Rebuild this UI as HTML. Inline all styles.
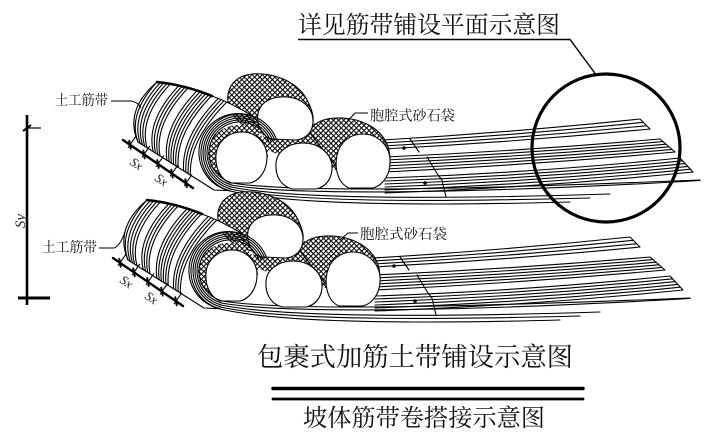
<!DOCTYPE html>
<html><head><meta charset="utf-8">
<style>html,body{margin:0;padding:0;background:#fff;}svg{display:block;}</style>
</head><body>
<svg width="723" height="432" viewBox="0 0 723 432" xmlns="http://www.w3.org/2000/svg">
<defs>
<pattern id="h" width="3.6" height="3.6" patternUnits="userSpaceOnUse" patternTransform="rotate(45)">
<rect width="3.6" height="3.6" fill="#fff"/>
<path d="M0,0.5H3.6M0.5,0V3.6" stroke="#000" stroke-width="1.1"/>
</pattern>
</defs>

<g id="grp" fill="none" stroke="#000" stroke-width="1.1" stroke-linejoin="round" stroke-linecap="round">
 <path d="M232,183 C300,194 500,188 700,180 M231,185 C300,197 500,192 700,180.5 M231,187 C300,201 480,198 610,194 M230,189 C300,204 470,201 590,198 M230,191 C300,207 460,205 570,202"/>
 <path fill="url(#h)" d="M232,113 C222,96 230,76 252,74 C276,72 297,83 306,98 C311,107 314,115 313,122 L262,133 C248,130 238,123 232,113 Z"/>
 <path fill="url(#h)" stroke="none" d="M262,133 L313,122 L330,133 L340,150 L336,170 L290,160 L268,150 Z"/>
 <path fill="url(#h)" d="M310,133 C312,122 326,117 343,118 C361,119 377,127 385,140 C391,150 391,163 387,172 L345,178 Z"/>
 <path fill="#fff" d="M258,113 C261,101 273,96 287,97 C302,98 313,108 313,121 C313,132 306,139 296,140 L272,139 C263,137 256,126 258,113 Z"/>
 <path d="M383,140 Q511.5,132.5 640,119 M383,143 Q513,135.6 643.3,122.3 M383,146 Q515,138.8 646.7,125.7 M383,149 Q516.5,142 650,129 M640,119 L650,129"/>
 <path d="M385,157 Q522.5,151 660,139 M385,160 Q524,153.8 663,141.6 M385,163 Q525.5,156.6 666,144.2 M385,166 Q527,159.4 669,146.8 M385,169 Q528.5,162.2 672,149.4 M385,172 Q530,165 675,152 M660,139 L675,152"/>
 <path d="M385,178 Q532.5,173 680,158 M385,181 Q533.8,175.9 682.6,160.8 M385,184 Q535.1,178.8 685.2,163.6 M385,187 Q536.4,181.7 687.8,166.4 M385,190 Q537.7,184.6 690.4,169.2 M385,193 Q539,187.5 693,172 M680,158 L693,172"/>
 <path d="M410,139 L419,152 M427,157 L438,175 L442,180 L446,197"/>
 <circle cx="404" cy="148" r="1.8" fill="#000" stroke="none"/>
 <circle cx="425" cy="183" r="1.8" fill="#000" stroke="none"/>
 <path fill="#fff" d="M337,155 C340,142 350,134 363,134 C377,134 389,145 390,159 C391,173 384,185 373,188 L349,188 C339,184 334,170 337,155 Z"/>
 <path fill="#fff" d="M157,82 Q212,90 254,117 A39,39 0 1 0 229.9,190.7 L214,190 L138,142 Q124,110 157,82 Z"/>
 <path d="M157,82 Q127.5,114 138,142 M160.3,82.5 Q130.3,115 140.3,143.4 M163.5,83 Q133,116 142.6,144.9 M166.8,83.6 Q135.8,117 144.8,146.3 M170,84.2 Q138.5,118 147.1,147.8 M178.5,86 Q145.8,120.8 153.2,151.6 M181.6,86.7 Q148.5,121.9 155.5,153 M184.8,87.4 Q151.3,123 157.8,154.5 M187.8,88.2 Q153.9,124 160,155.9 M197,90.8 Q162,127.5 166.9,160.2 M200,91.7 Q164.6,128.7 169.2,161.7 M202.9,92.8 Q167.2,130 171.4,163.1 M205.8,93.6 Q169.8,131.1 173.7,164.6 M208.8,94.75 Q172.4,132.4 176,166 M211.6,95.8 Q175,133.6 178.3,167.4 M218.3,98.4 Q181,136.6 183.6,170.8 M221.1,99.6 Q183.5,137.9 185.9,172.2 M223.8,100.9 Q186,139.3 188.2,173.7 M226.7,102.1 Q188.6,140.6 190.4,175.1"/>
 <path d="M157,82 Q185,85 212,96" stroke-width="2.6"/>
 <ellipse cx="238" cy="154" rx="30" ry="29" fill="url(#h)" stroke="none"/>
 <path fill="#fff" d="M216,155 C217,142 228,132 242,132 C256,132 267,143 267,157 C267,171 259,181 250,183 L230,183 C220,179 215,167 216,155 Z"/>
 <path d="M269.1,142.4 A31,31 0 1 0 232,182.9 M271,141.7 A33,33 0 1 0 231.5,184.9 M272.9,141 A35,35 0 1 0 230.9,186.8 M274.8,140.3 A37,37 0 1 0 230.4,188.7 M276.6,139.7 A39,39 0 1 0 229.9,190.7"/>
 <path fill="#fff" d="M276,163 C277,151 289,143 303,143 C318,143 330,152 332,165 C333,178 326,187 316,189 L292,189 C281,186 275,176 276,163 Z"/>
 <path d="M123,140 L193,188" stroke-width="2.4"/>
 <path d="M128.3,147.3 L135.65,136.56 M142.3,156.9 L149.65,146.16 M156.3,166.5 L163.65,155.76 M170.3,176.1 L177.65,165.36 M184.3,185.7 L191.65,174.96"/>
 <path d="M129.3,140.9 L130.7,148.7 M157.3,160.1 L158.7,167.9 M185.3,179.3 L186.7,187.1 M143.3,150.5 L144.7,158.3 M171.3,169.7 L172.7,177.5" stroke-width="2"/>
 <text transform="translate(129,164) rotate(34)" font-family="Liberation Serif, serif" font-style="italic" font-size="13" fill="#222" stroke="none">Sx</text>
 <text transform="translate(154,180) rotate(34)" font-family="Liberation Serif, serif" font-style="italic" font-size="13" fill="#222" stroke="none">Sx</text>
</g>
<use href="#grp" transform="translate(-10,118)"/>

<circle cx="606" cy="148" r="74" fill="none" stroke="#000" stroke-width="3.2"/>
<path d="M298,39.5 H570 L597,76" fill="none" stroke="#000" stroke-width="1.4"/>

<g stroke="#000" fill="none" stroke-linecap="butt">
 <path d="M27,115 V305" stroke-width="2.6"/>
 <path d="M27,128 H41" stroke-width="1.2"/>
 <path d="M23,131 L31,125" stroke-width="2"/>
 <path d="M18,298 H50" stroke-width="3"/>
</g>
<text transform="translate(25,221) rotate(-90)" text-anchor="middle" font-family="Liberation Serif, serif" font-style="italic" font-size="15" fill="#222">Sy</text>

<g stroke="#000" fill="none" stroke-width="1.1">
 <path d="M111,101 L131,101 Q138,102 141,108"/>
 <path d="M99,248 L114,248 Q120,246 125,232"/>
 <path d="M368,113 L355,113 L345,124"/>
 <path d="M358,233 L348,233 L340,240"/>
</g>

<g font-family="Liberation Serif, 'Noto Serif CJK SC', serif" fill="#111">
 <text x="298" y="33" font-size="24" textLength="262" lengthAdjust="spacingAndGlyphs">详见筋带铺设平面示意图</text>
 <text x="55" y="105" font-size="14" textLength="53" lengthAdjust="spacingAndGlyphs">土工筋带</text>
 <text x="370" y="120.5" font-size="14" textLength="85" lengthAdjust="spacingAndGlyphs">胞腔式砂石袋</text>
 <text x="42" y="252" font-size="14" textLength="55" lengthAdjust="spacingAndGlyphs">土工筋带</text>
 <text x="360" y="239" font-size="14" textLength="87" lengthAdjust="spacingAndGlyphs">胞腔式砂石袋</text>
 <text x="257" y="366" font-size="26" textLength="316" lengthAdjust="spacingAndGlyphs">包裹式加筋土带铺设示意图</text>
 <text x="303" y="426" font-size="24" textLength="242" lengthAdjust="spacingAndGlyphs">坡体筋带卷搭接示意图</text>
</g>

<path d="M273,388.5 H583" stroke="#000" stroke-width="3.6" stroke-linecap="round"/>
<path d="M273,399 H583" stroke="#000" stroke-width="2.8" stroke-linecap="round"/>
</svg>
</body></html>
